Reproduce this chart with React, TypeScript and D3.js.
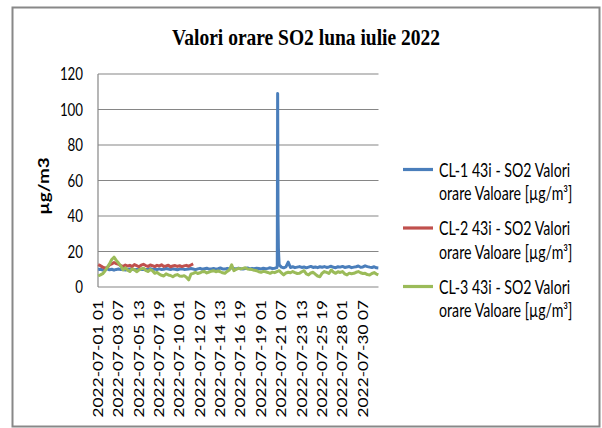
import * as d3 from 'd3';

// hourly SO2 values, July 2022 (read every 6 hours from the chart)
const STEP = 6;
const HOURS = 744;

const cl1Values = [
  9.8, 10.0, 9.6, 9.9, 10.2, 9.7, 10.0, 9.5, 9.9, 10.1, 9.8,
  10.0, 9.6, 9.9, 10.2, 10.0, 9.7, 9.9, 10.1, 9.8, 10.0,
  9.7, 10.0, 10.3, 9.9, 10.1, 9.8, 10.2, 9.9, 10.0, 10.4,
  10.1, 9.8, 10.2, 10.0, 9.7, 10.1, 10.3, 9.9, 10.0, 10.2,
  10.4, 10.1, 9.8, 10.2, 10.5, 10.0, 10.3, 10.6, 10.1, 10.2,
  10.4, 10.0, 10.3, 10.7, 10.2, 10.1, 10.5, 10.3, 10.8, 10.4,
  10.2, 10.6, 10.3, 10.1, 10.4, 10.7, 10.2, 10.5, 10.3, 10.6,
  10.4, 10.2, 10.6, 10.3, 10.5, 10.8, 10.4, 10.6, 10.9,
  12.5, 11.2, 10.8, 11.3, 14.0, 11.0, 11.4, 10.9, 11.2, 11.5, 11.0,
  11.3, 10.8, 11.2, 11.6, 11.0, 11.3, 10.9, 11.4, 11.1, 11.5,
  11.0, 11.3, 11.7, 11.1, 10.9, 11.4, 11.2, 11.6, 11.0, 11.3,
  11.5, 10.9, 11.2, 11.4, 11.8, 11.1, 11.3, 11.9, 11.5, 11.2,
  11.0, 11.4, 10.8, 10.7,
];
// the peak on 20 July, hour by hour
const cl1PeakHours = [475, 476, 477, 478, 479];
const cl1PeakValues = [12, 109, 40, 22, 17];

const cl2Values = [
  12.6, 12.0, 11.2, 10.6, 11.0, 12.4, 13.0, 13.8, 13.2, 12.8, 12.0,
  11.6, 12.4, 11.8, 12.2, 11.5, 12.6, 12.0, 11.4, 12.3, 12.8,
  12.1, 11.6, 12.4, 12.0, 11.5, 12.2, 11.8, 12.5, 11.6, 11.9,
  12.3, 11.4, 11.8, 12.1, 11.6, 12.0, 11.5, 11.9, 12.2, 11.7,
  12.4, 13.0,
];

const cl3Values = [
  6.2, 6.8, 7.5, 9.0, 11.0, 13.0, 15.5, 16.8, 15.0, 13.5, 11.8,
  9.6, 10.8, 9.5, 8.7, 10.2, 9.8, 8.6, 9.6, 10.2, 10.6,
  9.4, 8.7, 9.8, 9.2, 7.7, 8.3, 7.2, 6.6, 6.2, 7.4,
  6.8, 6.5, 5.8, 6.6, 7.0, 6.2, 6.0, 6.4, 5.5, 4.0,
  7.2, 7.7, 8.3, 7.6, 8.0, 8.6, 8.7, 7.9, 8.4, 8.9,
  9.2, 8.6, 9.0, 8.6, 8.0, 7.7, 8.8, 9.6, 12.5, 9.2,
  10.0, 10.5, 10.2, 10.5, 10.8, 10.2, 10.0, 9.8, 9.4, 9.2,
  8.6, 8.3, 8.8, 8.6, 8.2, 7.7, 8.4, 8.1, 8.7, 9.2,
  8.0, 6.8, 7.9, 8.3, 8.0, 8.7, 8.1, 7.6, 7.7, 8.6,
  9.2, 7.4, 6.8, 7.9, 8.3, 7.2, 6.2, 5.8, 7.8, 8.7,
  8.2, 7.6, 9.6, 8.4, 7.7, 8.6, 8.2, 8.7, 7.4, 6.8,
  7.8, 7.5, 7.7, 8.3, 8.7, 8.0, 7.6, 7.7, 7.0, 6.8,
  7.6, 8.1, 7.3, 6.8,
];

const tickLabels = [
  '2022-07-01 01', '2022-07-03 07', '2022-07-05 13', '2022-07-07 19',
  '2022-07-10 01', '2022-07-12 07', '2022-07-14 13', '2022-07-16 19',
  '2022-07-19 01', '2022-07-21 07', '2022-07-23 13', '2022-07-25 19',
  '2022-07-28 01', '2022-07-30 07',
];
const yTicks = [0, 20, 40, 60, 80, 100, 120];

const seriesNames = [
  'CL-1 43i - SO2 Valori',
  'CL-2 43i - SO2 Valori',
  'CL-3 43i - SO2 Valori',
];
const legendSecondLine = 'orare Valoare [µg/m³]';
const colors = ['#4a7ebb', '#c0504d', '#9bbb59'];

const SY = 1.3; // the picture is stretched vertically
const SANS = 'Lato, "Open Sans", sans-serif';

type Pt = { h: number; v: number };

const toPoints = (vals: number[]): Pt[] =>
  vals.map((v, i) => ({ h: Math.min(i * STEP, HOURS - 1), v }));

const hourIndex = (label: string) => {
  const day = +label.slice(8, 10);
  const hour = +label.slice(11, 13);
  return (day - 1) * 24 + hour - 1;
};

const App = () => {
  const width = 602;
  const height = 428;
  const plot = { left: 98, right: 378.5, top: 74, bottom: 287 };

  const x = d3.scaleLinear().domain([-0.5, HOURS - 0.5]).range([plot.left, plot.right]);
  const y = d3.scaleLinear().domain([0, 120]).range([plot.bottom, plot.top]);

  const cl1 = toPoints(cl1Values)
    .concat(cl1PeakHours.map((h, i) => ({ h, v: cl1PeakValues[i] })))
    .sort((a, b) => a.h - b.h);
  const series = [cl1, toPoints(cl2Values), toPoints(cl3Values)];

  const line = d3.line<Pt>().x(d => x(d.h)).y(d => y(d.v));

  const legendRows = [169.5, 228, 286.5];

  return (
    <svg width={width} height={height} style={{ position: 'absolute', left: 0, top: 0, background: '#fff' }}>
      <rect x={12.5} y={7.5} width={587} height={419} fill="#fff" stroke="#888" strokeWidth={2} />

      <text
        transform={`translate(306,45) scale(1,${SY})`}
        textAnchor="middle"
        fontFamily='"Liberation Serif", "Times New Roman", serif'
        fontWeight="bold"
        fontSize={18.5}
        textLength={268}
        lengthAdjust="spacingAndGlyphs"
        fill="#000"
      >
        Valori orare SO2 luna iulie 2022
      </text>

      {/* gridlines */}
      {yTicks.filter(t => t > 0).map(t => (
        <line key={t} x1={plot.left} x2={plot.right} y1={y(t)} y2={y(t)} stroke="#868686" strokeWidth={1.2} />
      ))}
      <line x1={plot.left} x2={plot.left} y1={plot.top} y2={plot.bottom} stroke="#868686" strokeWidth={1.2} />
      <line x1={plot.left} x2={plot.right} y1={plot.bottom} y2={plot.bottom} stroke="#868686" strokeWidth={1.2} />

      {yTicks.map(t => (
        <text
          key={t}
          transform={`translate(83,${y(t)}) scale(1,${SY})`}
          dy="0.36em"
          textAnchor="end"
          fontFamily={SANS}
          fontSize={13.3}
          fill="#000"
        >
          {t}
        </text>
      ))}

      <text
        transform={`translate(44,186) scale(1,${SY}) rotate(-90)`}
        dy="0.36em"
        textAnchor="middle"
        fontFamily={SANS}
        fontWeight="bold"
        fontSize={14.5}
        fill="#000"
      >
        µg/m3
      </text>

      {tickLabels.map(l => (
        <text
          key={l}
          transform={`translate(${x(hourIndex(l))},300) scale(1,${SY}) rotate(-90)`}
          dy="0.36em"
          textAnchor="end"
          fontFamily={SANS}
          fontSize={13.3}
          fill="#000"
        >
          {l}
        </text>
      ))}

      {series.map((s, i) => (
        <path key={i} d={line(s) || ''} fill="none" stroke={colors[i]} strokeWidth={3} strokeLinejoin="round" />
      ))}

      {seriesNames.map((name, i) => (
        <g key={name}>
          <line x1={403} x2={433} y1={legendRows[i]} y2={legendRows[i]} stroke={colors[i]} strokeWidth={3.2} />
          <text transform={`translate(439,${legendRows[i] + 7.3}) scale(1,${SY})`} fontFamily={SANS} fontSize={14.2} fill="#000">
            {name}
          </text>
          <text transform={`translate(439,${legendRows[i] + 30.8}) scale(1,${SY})`} fontFamily={SANS} fontSize={14.2} fill="#000">
            {legendSecondLine}
          </text>
        </g>
      ))}
    </svg>
  );
};

export default App;
